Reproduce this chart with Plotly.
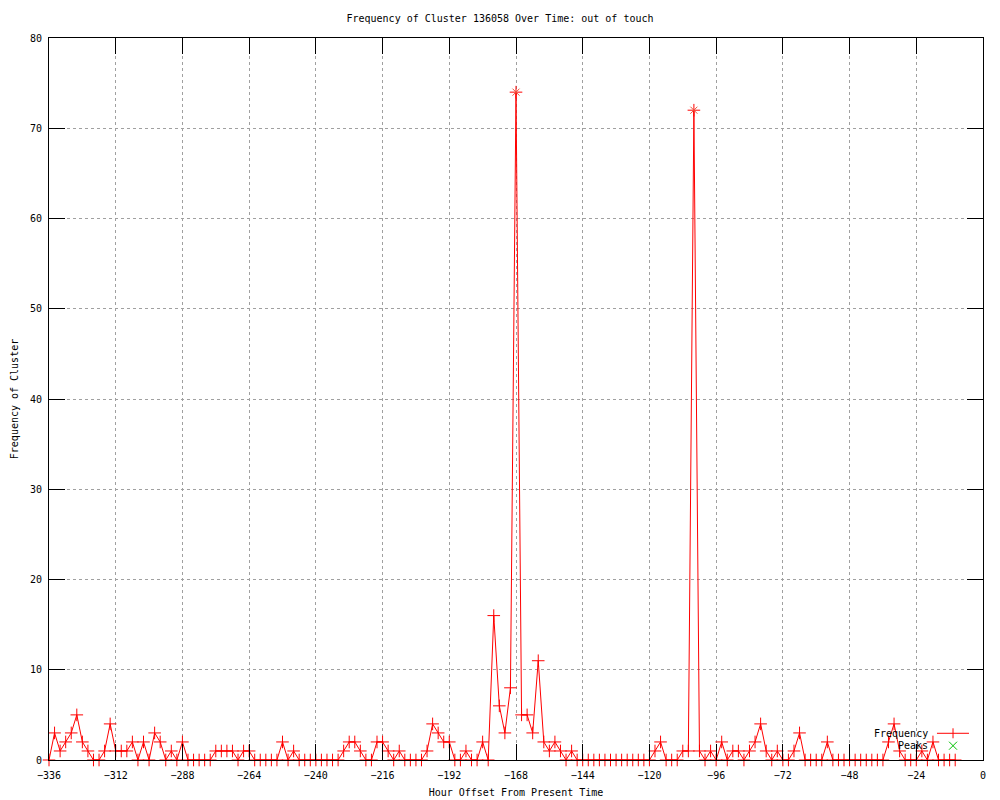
import plotly.graph_objects as go

# hour offsets, one sample every 2 hours
hours = [
    -336, -334, -332, -330, -328, -326, -324, -322, -320, -318, -316, -314,
    -312, -310, -308, -306, -304, -302, -300, -298, -296, -294, -292, -290,
    -288, -286, -284, -282, -280, -278, -276, -274, -272, -270, -268, -266,
    -264, -262, -260, -258, -256, -254, -252, -250, -248, -246, -244, -242,
    -240, -238, -236, -234, -232, -230, -228, -226, -224, -222, -220, -218,
    -216, -214, -212, -210, -208, -206, -204, -202, -200, -198, -196, -194,
    -192, -190, -188, -186, -184, -182, -180, -178, -176, -174, -172, -170,
    -168, -166, -164, -162, -160, -158, -156, -154, -152, -150, -148, -146,
    -144, -142, -140, -138, -136, -134, -132, -130, -128, -126, -124, -122,
    -120, -118, -116, -114, -112, -110, -108, -106, -104, -102, -100, -98,
    -96, -94, -92, -90, -88, -86, -84, -82, -80, -78, -76, -74,
    -72, -70, -68, -66, -64, -62, -60, -58, -56, -54, -52, -50,
    -48, -46, -44, -42, -40, -38, -36, -34, -32, -30, -28, -26,
    -24, -22, -20, -18, -16, -14, -12, -10,
]

frequency = [
    0, 3, 1, 2, 3, 5, 2, 1, 0, 0, 1, 4,
    1, 1, 1, 2, 0, 2, 0, 3, 2, 0, 1, 0,
    2, 0, 0, 0, 0, 0, 1, 1, 1, 1, 0, 1,
    1, 0, 0, 0, 0, 0, 2, 0, 1, 0, 0, 0,
    0, 0, 0, 0, 0, 1, 2, 2, 1, 0, 0, 2,
    2, 1, 0, 1, 0, 0, 0, 0, 1, 4, 3, 2,
    2, 0, 0, 1, 0, 0, 2, 0, 16, 6, 3, 8,
    74, 5, 5, 3, 11, 2, 1, 2, 1, 0, 1, 0,
    0, 0, 0, 0, 0, 0, 0, 0, 0, 0, 0, 0,
    0, 1, 2, 0, 0, 0, 1, 1, 72, 1, 0, 1,
    0, 2, 0, 1, 1, 0, 1, 2, 4, 1, 0, 1,
    0, 0, 1, 3, 0, 0, 0, 0, 2, 0, 0, 0,
    0, 0, 0, 0, 0, 0, 0, 2, 4, 1, 0, 0,
    0, 1, 0, 2, 0, 0, 0, 0,
]

peak_hours = [-168, -104]
peak_values = [74, 72]

x_ticks = [-336, -312, -288, -264, -240, -216, -192, -168, -144, -120, -96, -72, -48, -24, 0]
y_ticks = [0, 10, 20, 30, 40, 50, 60, 70, 80]

FONT = "DejaVu Sans Mono"
RED = "#ff0000"
GREEN = "#00c000"

fig = go.Figure()

fig.add_trace(go.Scatter(
    x=hours, y=frequency,
    mode="lines+markers",
    name="Frequency",
    line=dict(color=RED, width=1),
    marker=dict(symbol="cross-thin-open", size=9, line=dict(color=RED, width=1)),
    cliponaxis=False,
    showlegend=False,
))
fig.add_trace(go.Scatter(
    x=peak_hours, y=peak_values,
    mode="markers",
    name="Peaks",
    marker=dict(symbol="x-thin-open", size=7, line=dict(color=GREEN, width=1)),
    cliponaxis=False,
    showlegend=False,
))

axis_common = dict(
    showline=True, linecolor="black", linewidth=1, mirror="allticks",
    ticks="inside", ticklen=16, tickcolor="black", tickwidth=1,
    showgrid=True, gridcolor="#a0a0a0", griddash="dot", gridwidth=1,
    zeroline=False, automargin=False,
    tickfont=dict(family=FONT, size=10, color="black"),
)

fig.update_layout(
    width=1000, height=800,
    paper_bgcolor="white", plot_bgcolor="white",
    margin=dict(l=49, r=17, t=38, b=40, autoexpand=False),
    font=dict(family=FONT, size=10, color="black"),
    title=dict(
        text="Frequency of Cluster 136058 Over Time: out of touch",
        x=0.5, xanchor="center", y=1 - 18 / 800, yanchor="middle",
        font=dict(family=FONT, size=10, color="black"),
    ),
    xaxis=dict(
        range=[-336, 0], tickvals=x_ticks,
        title=dict(text="Hour Offset From Present Time", standoff=8,
                   font=dict(family=FONT, size=10, color="black")),
        ticklabelstandoff=6,
        **axis_common,
    ),
    yaxis=dict(
        range=[0, 80], tickvals=y_ticks,
        title=dict(text="Frequency of Cluster", standoff=9,
                   font=dict(family=FONT, size=10, color="black")),
        ticklabelstandoff=4,
        **axis_common,
    ),
)

# gnuplot-style key: text right-aligned, sample on the right
key_text_x = 0.9433
key_mid_x = 0.9679
row1_y = 0.037
row2_y = 0.0198
fig.add_annotation(xref="paper", yref="paper", x=key_text_x, y=row1_y,
                   text="Frequency", showarrow=False, xanchor="right", yanchor="middle",
                   font=dict(family=FONT, size=10, color="black"))
fig.add_annotation(xref="paper", yref="paper", x=key_text_x, y=row2_y,
                   text="Peaks", showarrow=False, xanchor="right", yanchor="middle",
                   font=dict(family=FONT, size=10, color="black"))
fig.add_shape(type="line", xref="paper", yref="paper",
              x0=0.9507, x1=0.985, y0=row1_y, y1=row1_y,
              line=dict(color=RED, width=1))
fig.add_shape(type="line", xref="paper", yref="paper", xsizemode="pixel", ysizemode="pixel",
              xanchor=key_mid_x, yanchor=row1_y, x0=0, x1=0, y0=-5, y1=5,
              line=dict(color=RED, width=1))
fig.add_shape(type="line", xref="paper", yref="paper", xsizemode="pixel", ysizemode="pixel",
              xanchor=key_mid_x, yanchor=row2_y, x0=-4, x1=4, y0=-4, y1=4,
              line=dict(color=GREEN, width=1))
fig.add_shape(type="line", xref="paper", yref="paper", xsizemode="pixel", ysizemode="pixel",
              xanchor=key_mid_x, yanchor=row2_y, x0=-4, x1=4, y0=4, y1=-4,
              line=dict(color=GREEN, width=1))

# drop the default page margin so the figure sits at the window's top-left corner
fig.write_html("out.html", config={"displayModeBar": False},
               post_script="document.body.style.margin='0';")
